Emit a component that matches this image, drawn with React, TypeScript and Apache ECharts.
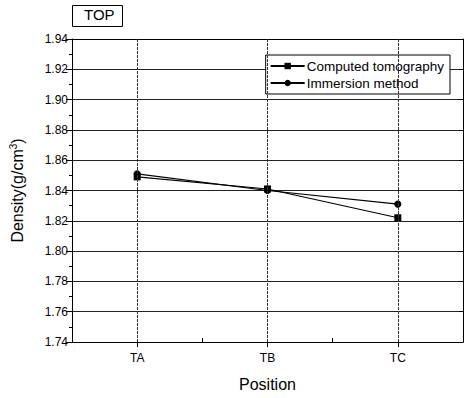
import React, { useEffect, useRef } from "react";
import * as echarts from "echarts";

const categories = ["TA", "TB", "TC"];
const ctValues = [1.849, 1.841, 1.822];
const immersionValues = [1.851, 1.840, 1.831];
const seriesNames = ["Computed tomography", "Immersion method"];
const yMin = 1.74;
const yMax = 1.94;
const yInterval = 0.02;

export default function App() {
  const ref = useRef<HTMLDivElement>(null);
  useEffect(() => {
    if (!ref.current) return;
    const chart = echarts.init(ref.current, null, { renderer: "svg" });
    const font = "Liberation Sans, Arial, sans-serif";
    chart.setOption({
      animation: false,
      backgroundColor: "#fff",
      grid: { left: 72, top: 39, right: 4, bottom: 56, containLabel: false },
      graphic: [
        {
          type: "rect",
          shape: { x: 72.5, y: 5.5, width: 50, height: 21 },
          style: { fill: "#fff", stroke: "#000", lineWidth: 1 },
        },
        {
          type: "text",
          x: 84,
          y: 7,
          style: { text: "TOP", font: "15px " + font, fill: "#000" },
        },
      ],
      legend: {
        show: true,
        orient: "vertical",
        right: 17,
        top: 55,
        backgroundColor: "#fff",
        borderColor: "#000",
        borderWidth: 1,
        borderRadius: 0,
        padding: [4, 6, 4, 4],
        itemGap: 3,
        itemWidth: 34,
        itemHeight: 8,
        textStyle: { fontFamily: font, fontSize: 13.5, color: "#000", padding: [0, 0, 0, -3] },
        data: seriesNames,
      },
      xAxis: [
        {
          type: "category",
          data: categories,
          boundaryGap: true,
          position: "bottom",
          name: "Position",
          nameLocation: "middle",
          nameGap: 34,
          nameTextStyle: { fontFamily: font, fontSize: 16, color: "#000" },
          axisLine: { show: true, lineStyle: { color: "#000", width: 1 } },
          axisTick: { show: true, alignWithLabel: true, inside: false, length: 5, lineStyle: { color: "#000" } },
          axisLabel: { fontFamily: font, fontSize: 12, color: "#000", margin: 10 },
          splitLine: { show: false },
        },
        {
          type: "category",
          data: categories,
          boundaryGap: true,
          position: "bottom",
          axisLine: { show: false },
          axisTick: { show: true, inside: true, length: 4, lineStyle: { color: "#000" } },
          axisLabel: { show: false },
          splitLine: { show: false },
        },
        {
          type: "category",
          data: categories,
          boundaryGap: true,
          position: "top",
          axisLine: { show: true, lineStyle: { color: "#000", width: 1 } },
          axisTick: { show: false },
          axisLabel: { show: false },
          splitLine: { show: false },
        },
      ],
      yAxis: [
        {
          type: "value",
          min: yMin,
          max: yMax,
          interval: yInterval,
          name: "{a|Density(g/cm}{b|3}{a|)}",
          nameLocation: "middle",
          nameGap: 46,
          nameRotate: 90,
          nameTextStyle: {
            rich: {
              a: { fontFamily: font, fontSize: 16, color: "#000" },
              b: { fontFamily: font, fontSize: 10, color: "#000", verticalAlign: "top", padding: [0, 0, 8, 0] },
            },
          },
          axisLine: { show: true, lineStyle: { color: "#000", width: 1 } },
          axisTick: { show: true, inside: false, length: 6, lineStyle: { color: "#000" } },
          minorTick: { show: true, splitNumber: 2, length: 3, lineStyle: { color: "#000" } },
          axisLabel: {
            fontFamily: font,
            fontSize: 12,
            color: "#000",
            margin: 4,
            formatter: (v: number) => v.toFixed(2),
          },
          splitLine: { show: true, lineStyle: { color: "#222", width: 1 } },
        },
        {
          type: "value",
          min: yMin,
          max: yMax,
          interval: yInterval,
          position: "right",
          axisLine: { show: true, lineStyle: { color: "#000", width: 1 } },
          axisTick: { show: true, inside: true, length: 4, lineStyle: { color: "#000" } },
          axisLabel: { show: false },
          splitLine: { show: false },
        },
      ],
      series: [
        {
          name: seriesNames[0],
          type: "line",
          data: ctValues,
          symbol: "rect",
          symbolSize: 7,
          itemStyle: { color: "#000" },
          lineStyle: { color: "#000", width: 1.2 },
          markLine: {
            silent: true,
            symbol: "none",
            label: { show: false },
            lineStyle: { color: "#333", width: 1, type: [3, 1] },
            data: categories.map((c) => ({ xAxis: c })),
          },
        },
        {
          name: seriesNames[1],
          type: "line",
          data: immersionValues,
          symbol: "circle",
          symbolSize: 7,
          itemStyle: { color: "#000" },
          lineStyle: { color: "#000", width: 1.2 },
        },
      ],
    });
    return () => chart.dispose();
  }, []);
  return (
    <div
      ref={ref}
      style={{ position: "fixed", left: 0, top: 0, width: 467, height: 398 }}
    />
  );
}
